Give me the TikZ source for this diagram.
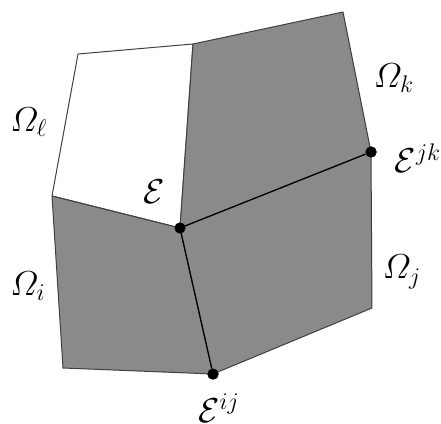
\documentclass[tikz,border=0pt]{standalone}
\usepackage{amsmath}
\usepackage{tikz}
\definecolor{cell}{HTML}{8A8A8A}

\begin{document}
\begin{tikzpicture}[x=0.5pt,y=-0.5pt,
  rim/.style={draw=black!75,line width=0.5pt,line join=round},
  iface/.style={draw=black,line width=0.6pt},
  pt/.style={circle,fill=black,inner sep=0pt,minimum size=5.6pt},
  lab/.style={inner sep=0pt,font=\LARGE}]
\useasboundingbox (0,0) rectangle (441,424);

\coordinate (tl) at (78,54);
\coordinate (tm) at (193,44);
\coordinate (tr) at (343,12);
\coordinate (ml) at (52,196);
\coordinate (mr) at (372,308);
\coordinate (bl) at (63,368);
\node[pt] (e)   at (180,228) {};
\node[pt] (ejk) at (371,152) {};
\node[pt] (eij) at (213,374) {};

% cells
\path[rim,fill=white] (tl) -- (tm) -- (e.center) -- (ml) -- cycle;
\path[rim,fill=cell]  (tm) -- (tr) -- (ejk.center) -- (e.center) -- cycle;
\path[rim,fill=cell]  (ml) -- (e.center) -- (eij.center) -- (bl) -- cycle;
\path[rim,fill=cell]  (e.center) -- (ejk.center) -- (mr) -- (eij.center) -- cycle;
\draw[iface] (ejk) -- (e.center) -- (eij);
\node[pt] at (e) {};
\node[pt] at (ejk) {};
\node[pt] at (eij) {};

\node[lab] (oml) at (29,122)  {$\varOmega_\ell$};
\node[lab] (omk) at (394,78)  {$\varOmega_k$};
\node[lab] (omi) at (28,286)  {$\varOmega_i$};
\node[lab] (omj) at (402,272) {$\varOmega_j$};
\node[lab] (le)   at (154,192) {$\mathcal{E}$};
\node[lab] (ljk)  at (418,158) {$\mathcal{E}^{jk}$};
\node[lab] (lij)  at (219,408) {$\mathcal{E}^{ij}$};
\end{tikzpicture}
\end{document}
